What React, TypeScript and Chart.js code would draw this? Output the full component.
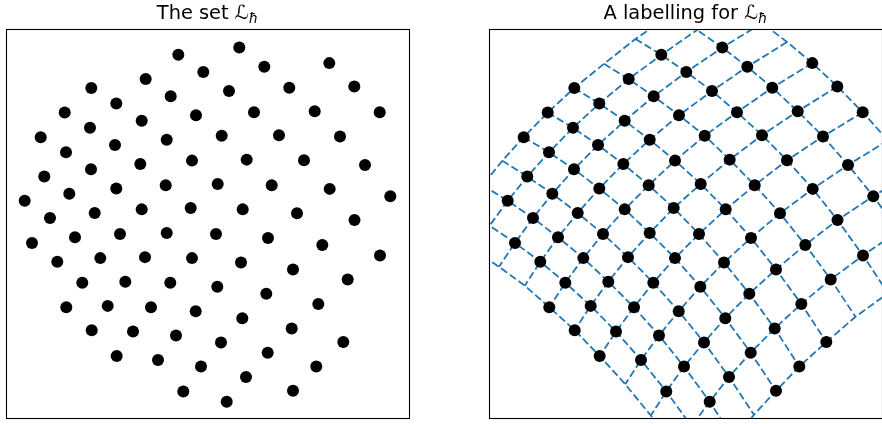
import React, { useEffect, useRef } from "react";
import { Chart, registerables } from "chart.js";

Chart.register(...registerables);

// Lattice labels: rows k (one family of grid lines) and columns a (the other family)
const ROW_LABELS = [-1, 0, 1, 2, 3, 4, 5, 6, 7, 8, 9];
const COL_LABELS = [0, 1, 2, 3, 4, 5, 6, 7, 8, 9, 10];

// In each row, the first and last column label that is a point of the set
const FIRST_POINT_COL = [4, 2, 1, 1, 0, 0, 0, 1, 1, 2, 4];
const LAST_POINT_COL = [6, 8, 9, 9, 10, 10, 10, 9, 9, 8, 6];

// Position of every labelled node (x), one row per k, one entry per a
const NODE_X = [
  [227, 253.5, 279, 304, 329.3, 354.3, 379.7, 405, 430.5, 456, 481.5],
  [188.5, 214, 239.3, 264.3, 289.3, 314.7, 340, 365, 390.3, 415.5, 441],
  [152.5, 178.3, 203.3, 229, 254, 279, 304, 329.7, 354.5, 380, 405],
  [121, 145.7, 170.7, 196, 221.7, 246.7, 271.7, 297, 322.3, 347.7, 372.5],
  [91.3, 116.3, 141.7, 166.7, 192, 217.7, 242.7, 268, 293, 318.3, 343.3],
  [64.7, 90, 115, 140.3, 165.7, 190.7, 216, 241, 266.3, 291.7, 316.3],
  [40.7, 66, 91, 116.3, 141.7, 166.7, 192, 217.3, 242.3, 267.7, 293],
  [19.3, 44.3, 69.3, 94.7, 120, 145, 170.3, 195.7, 221, 246, 271],
  [-0.5, 24.7, 50, 75, 100.3, 125.3, 151, 176, 201, 226.7, 251.5],
  [-18.5, 6.5, 32, 57.3, 82.3, 107.7, 133, 158, 183.3, 208.5, 233.5],
  [-33.5, -8.5, 16, 41.8, 66.3, 91.7, 116.7, 142.2, 167.8, 193, 218.5],
];

// Position of every labelled node (y, measured downward), same layout
const NODE_Y = [
  [-10.5, 5.5, 23, 42, 63.3, 86.7, 112.7, 141, 172.5, 207.5, 246],
  [14, 30, 47.7, 67, 88, 111.7, 137, 165.7, 197, 232, 270.5],
  [39, 55, 72.3, 91.3, 112.7, 135.7, 161, 189.7, 221, 256.7, 294.5],
  [64, 79.3, 96.7, 115.7, 136.3, 160.3, 186, 214.3, 246, 280.7, 318.3],
  [88.3, 104, 121.3, 140.3, 161.3, 184.7, 210.3, 239, 270.7, 305.3, 343.7],
  [113, 128.3, 145.7, 164.7, 186, 209, 235, 263.7, 295, 330, 368.3],
  [137.7, 153, 170, 189.3, 210.3, 234, 259.3, 288, 319.7, 354.3, 392.7],
  [161.5, 177.3, 194.7, 214, 235, 258.3, 284, 312.7, 344, 378.7, 416.7],
  [186, 201.7, 219, 238.3, 259.3, 283, 308.7, 337, 368.3, 403.7, 442],
  [211, 226.7, 244, 263, 284, 307.3, 333, 361.7, 393.3, 428.3, 466.8],
  [235.5, 251, 268, 287, 308.7, 331.7, 357.7, 386, 417.5, 452.5, 491],
];

const X_RANGE_LEFT = [6, 409];
const X_RANGE_RIGHT = [6, 399];
const Y_RANGE = [29, 420];

const TITLE_LEFT = "The set ";
const TITLE_RIGHT = "A labelling for ";
const TITLE_SYMBOL = "\u2112";
const TITLE_SUB = "\u0127";

const BLUE = "#1f77b4";
const CANVAS_W = 441;
const CANVAS_H = 424;

function setPoints() {
  const pts: { x: number; y: number }[] = [];
  ROW_LABELS.forEach((_, r) => {
    for (let c = FIRST_POINT_COL[r]; c <= LAST_POINT_COL[r]; c++) {
      pts.push({ x: NODE_X[r][c], y: NODE_Y[r][c] });
    }
  });
  return pts;
}

function gridLines() {
  const lines: { x: number; y: number }[][] = [];
  ROW_LABELS.forEach((_, r) => {
    lines.push(COL_LABELS.map((_, c) => ({ x: NODE_X[r][c], y: NODE_Y[r][c] })));
  });
  COL_LABELS.forEach((_, c) => {
    lines.push(ROW_LABELS.map((_, r) => ({ x: NODE_X[r][c], y: NODE_Y[r][c] })));
  });
  return lines;
}

function framePlugin(title: string) {
  return {
    id: "frameTitle",
    afterDraw(chart: any) {
      const { ctx, chartArea } = chart;
      const { left, top, right, bottom } = chartArea;
      ctx.save();
      ctx.strokeStyle = "#000";
      ctx.lineWidth = 1.1;
      ctx.strokeRect(left + 0.5, top + 0.5, right - left, bottom - top);

      const mainFont = "19.4px 'DejaVu Sans'";
      const subFont = "oblique 13.6px 'DejaVu Sans'";
      ctx.fillStyle = "#000";
      ctx.textBaseline = "alphabetic";
      ctx.textAlign = "left";
      ctx.font = mainFont;
      const w1 = ctx.measureText(title).width;
      const w2 = ctx.measureText(TITLE_SYMBOL).width;
      ctx.font = subFont;
      const w3 = ctx.measureText(TITLE_SUB).width;
      const total = w1 + w2 + w3;
      const cx = (left + right) / 2;
      let x = cx - total / 2;
      const base = 18.6;
      ctx.font = mainFont;
      ctx.fillText(title, x, base);
      x += w1;
      ctx.fillText(TITLE_SYMBOL, x, base);
      x += w2;
      ctx.font = subFont;
      ctx.fillText(TITLE_SUB, x, base + 4);
      ctx.restore();
    },
  };
}

function makeChart(canvas: HTMLCanvasElement, withGrid: boolean) {
  const xr = withGrid ? X_RANGE_RIGHT : X_RANGE_LEFT;
  const datasets: any[] = [
    {
      data: setPoints(),
      showLine: false,
      pointRadius: 6,
      pointHoverRadius: 6,
      pointBackgroundColor: "#000",
      pointBorderWidth: 0,
      pointBorderColor: "#000",
      order: 0,
      clip: 0,
    },
  ];
  if (withGrid) {
    gridLines().forEach((line) => {
      datasets.push({
        data: line,
        showLine: true,
        pointRadius: 0,
        pointHoverRadius: 0,
        borderColor: BLUE,
        borderWidth: 1.8,
        borderDash: [7.5, 3.3],
        tension: 0,
        fill: false,
        order: 1,
        clip: 0,
      });
    });
  }
  return new Chart(canvas, {
    type: "scatter",
    data: { datasets },
    options: {
      animation: false,
      responsive: false,
      events: [],
      layout: {
        padding: {
          left: xr[0],
          top: Y_RANGE[0],
          right: CANVAS_W - xr[1],
          bottom: CANVAS_H - Y_RANGE[1],
        },
      },
      plugins: {
        legend: { display: false },
        tooltip: { enabled: false },
        title: { display: false },
      },
      scales: {
        x: { type: "linear", display: false, min: xr[0], max: xr[1] },
        y: { type: "linear", display: false, reverse: true, min: Y_RANGE[0], max: Y_RANGE[1] },
      },
    },
    plugins: [framePlugin(withGrid ? TITLE_RIGHT : TITLE_LEFT)],
  } as any);
}

export default function App() {
  const leftRef = useRef<HTMLCanvasElement>(null);
  const rightRef = useRef<HTMLCanvasElement>(null);

  useEffect(() => {
    const a = makeChart(leftRef.current!, false);
    const b = makeChart(rightRef.current!, true);
    return () => {
      a.destroy();
      b.destroy();
    };
  }, []);

  const canvasStyle = (left: number): React.CSSProperties => ({
    position: "absolute",
    left,
    top: 0,
    width: CANVAS_W,
    height: CANVAS_H,
  });

  return (
    <div
      style={{
        position: "fixed",
        left: 0,
        top: 0,
        width: "100vw",
        height: "100vh",
        overflow: "hidden",
        background: "#fff",
      }}
    >
      <canvas ref={leftRef} width={CANVAS_W} height={CANVAS_H} style={canvasStyle(0)} />
      <canvas ref={rightRef} width={CANVAS_W} height={CANVAS_H} style={canvasStyle(483)} />
    </div>
  );
}
